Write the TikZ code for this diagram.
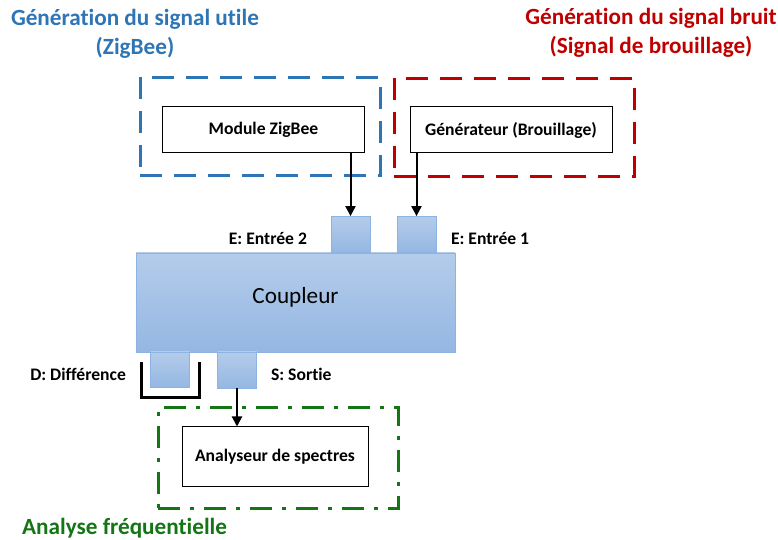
\documentclass[tikz,border=0pt]{standalone}
\usepackage{fontspec}
\setmainfont{Carlito}[Ligatures=NoCommon]
\usepackage{tikz}
\usetikzlibrary{calc,arrows.meta}
\usetikzlibrary{positioning}
\definecolor{zb-blue}{HTML}{2E75B6}
\definecolor{zb-red}{HTML}{C00000}
\definecolor{zb-green}{HTML}{137513}
\definecolor{cp-top}{HTML}{B4CCEA}
\definecolor{cp-bot}{HTML}{94B7E3}
\definecolor{cp-edge}{HTML}{8DB3E2}

\begin{document}
\begin{tikzpicture}[
    x=0.5pt, y=-0.5pt,
    >={Triangle[length=5pt,width=5pt]},
    block/.style={draw=black, fill=white, line width=0.5pt, minimum width=101pt, minimum height=23pt, align=center, font=\fontsize{8.8}{10}\selectfont\bfseries},
    port/.style={draw=cp-edge, top color=cp-top, bottom color=cp-bot, minimum width=19.5pt, minimum height=18pt, inner sep=0pt},
    zone/.style={line width=1.5pt, minimum width=120pt, minimum height=49pt},
    title/.style={font=\fontsize{11.6}{14.5}\selectfont\bfseries, align=center},
    plabel/.style={font=\fontsize{8.8}{10}\selectfont\bfseries},
    conn/.style={->, line width=1pt}
]
\useasboundingbox (0,0) rectangle (778,540);

% =========================================================================
% TITRES DES ZONES
% =========================================================================
\node[title, text=zb-blue] (tutile) at (135, 34) {Génération du signal utile\\(ZigBee)};
\node[title, text=zb-red] (tbruit) at (651, 33) {Génération du signal bruit\\(Signal de brouillage)};

% =========================================================================
% ZONES EN POINTILLES
% =========================================================================
\node[zone, draw=zb-blue, dash pattern=on 11pt off 6pt] (zutile) at (260, 126.5) {};
\node[zone, draw=zb-red, dash pattern=on 11pt off 6pt] (zbruit) at (514, 127.5) {};
\node[zone, draw=zb-green, minimum height=50pt, dash pattern=on 11pt off 5pt on 2pt off 5pt] (zanalyse) at (278, 458) {};

% =========================================================================
% BLOCS
% =========================================================================
\node[block] (zigbee) at (263.5, 130) {Module ZigBee};
\node[block] (gen) at (511, 130) {Générateur (Brouillage)};
\node[block, minimum width=93pt, minimum height=29.5pt] (analyseur) at (275, 456.5) {Analyseur de spectres};

% =========================================================================
% COUPLEUR ET SES PORTS
% =========================================================================
\node[port, minimum width=159.5pt, minimum height=49.5pt] (coupleur) at (295.5, 302.5) {};
\node[font=\fontsize{11.6}{13}\selectfont] (tcoupleur) at (295.5, 297) {Coupleur};
\node[port] (e2) at (350.5, 234.5) {};
\node[port] (e1) at (416.5, 234.5) {};
\node[port, minimum height=17.5pt] (pd) at (170, 369.5) {};
\node[port] (ps) at (237, 370) {};

\node[plabel, anchor=east] (le2) at (314, 238) {E: Entrée 2};
\node[plabel, anchor=west] (le1) at (444, 238) {E: Entrée 1};
\node[plabel, anchor=east] (lpd) at (133, 374) {D: Différence};
\node[plabel, anchor=west] (lps) at (264, 374) {S: Sortie};

% crochet sous la sortie D
\draw[line width=1.5pt] ($(pd.south west)+(-9,-25)$) |- ($(pd.south east)+(10,10)$) -- ($(pd.south east)+(10,-25)$);

% =========================================================================
% LIAISONS
% =========================================================================
\draw[conn] (zigbee.south -| e2.north) -- (e2.north);
\draw[conn] (gen.south -| e1.north) -- (e1.north);
\draw[conn] (ps.south) -- (ps.south |- analyseur.north);

\node[font=\fontsize{11.6}{13}\selectfont\bfseries, text=zb-green, anchor=west] (tanalyse) at (15, 528) {Analyse fréquentielle};

\end{tikzpicture}
\end{document}
